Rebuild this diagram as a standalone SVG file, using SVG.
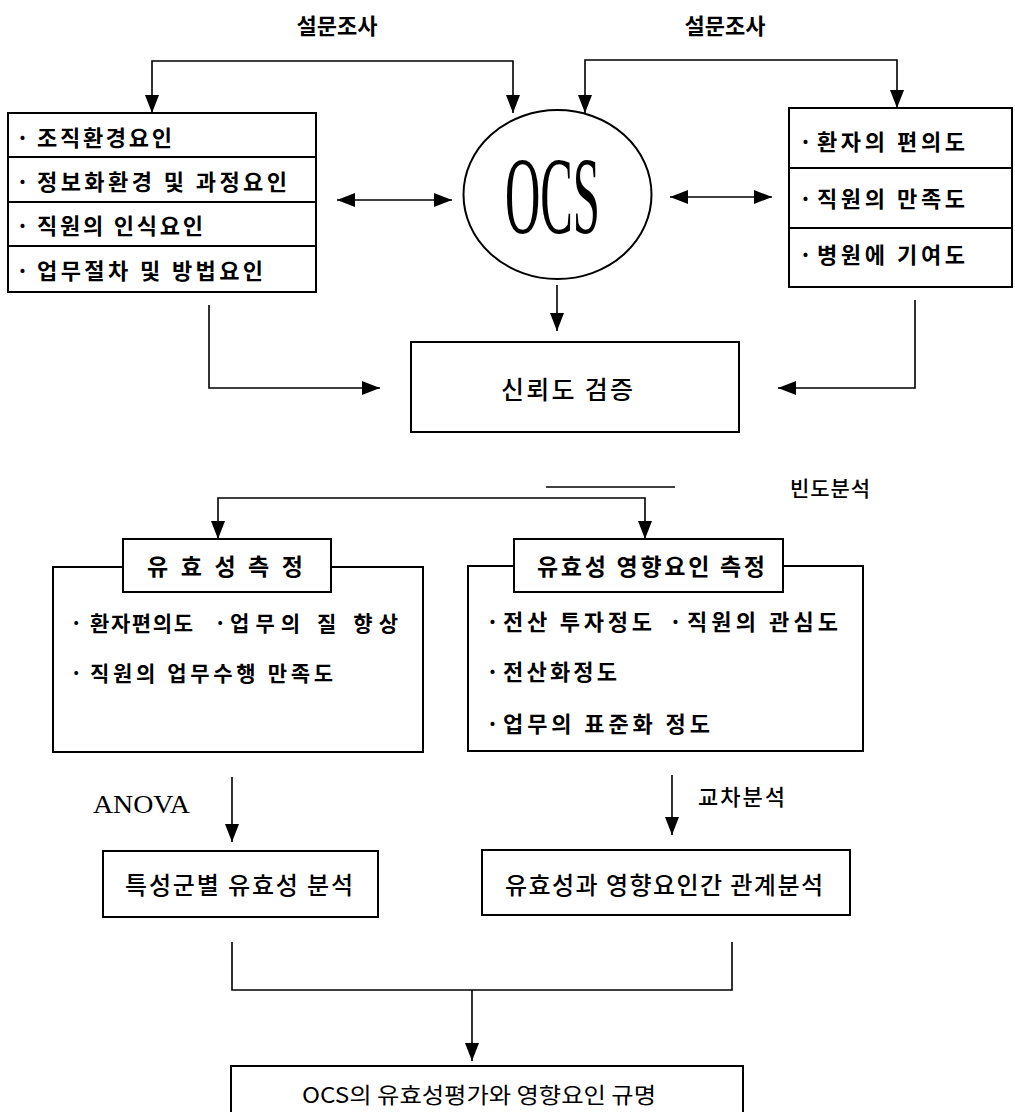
<svg xmlns="http://www.w3.org/2000/svg" width="1015" height="1112" viewBox="0 0 1015 1112">
<defs>
<marker id="ah" viewBox="0 0 18 14" refX="18" refY="7" markerWidth="18" markerHeight="14" orient="auto-start-reverse" markerUnits="userSpaceOnUse"><path d="M0,0 L18,7 L0,14 z" fill="#000"/></marker>
<style>
.box{fill:#fff;stroke:#000;stroke-width:2}
.div{stroke:#000;stroke-width:1.8}
.con{fill:none;stroke:#000;stroke-width:1.6}
.ko{font-family:"Noto Sans CJK KR","Noto Sans",sans-serif;fill:#000;dominant-baseline:central}
.b{font-weight:bold}
.m{font-weight:500}
.se{font-family:"Liberation Serif","Times New Roman",serif;fill:#000}
</style>
</defs>
<rect width="1015" height="1112" fill="#fff"/>

<g id="connectors">
<path class="con" d="M152,113 V61 H513 V113" marker-start="url(#ah)" marker-end="url(#ah)"/>
<path class="con" d="M585,113 V60 H897 V108" marker-start="url(#ah)" marker-end="url(#ah)"/>
<path class="con" d="M337,200 H452" marker-start="url(#ah)" marker-end="url(#ah)"/>
<path class="con" d="M670,197 H772" marker-start="url(#ah)" marker-end="url(#ah)"/>
<path class="con" d="M557,285 V331" marker-end="url(#ah)"/>
<path class="con" d="M209,305 V388 H380" marker-end="url(#ah)"/>
<path class="con" d="M915,300 V388 H778" marker-end="url(#ah)"/>
<path class="con" d="M546,487 H675"/>
<path class="con" d="M218,539 V498 H645 V539" marker-start="url(#ah)" marker-end="url(#ah)"/>
<path class="con" d="M232,777 V842" marker-end="url(#ah)"/>
<path class="con" d="M672,775 V835" marker-end="url(#ah)"/>
<path class="con" d="M232,942 V990 H732 V942"/>
<path class="con" d="M472,990 V1061" marker-end="url(#ah)"/>
</g>

<g id="label-survey-left"><text class="ko b" x="337" y="24" font-size="22" text-anchor="middle">설문조사</text></g>
<g id="label-survey-right"><text class="ko b" x="725" y="24" font-size="22" text-anchor="middle">설문조사</text></g>

<g id="node-left-factors">
<rect class="box" x="8" y="113" width="308" height="179"/>
<line class="div" x1="8" y1="157" x2="316" y2="157"/>
<line class="div" x1="8" y1="202" x2="316" y2="202"/>
<line class="div" x1="8" y1="246" x2="316" y2="246"/>
<text class="ko b" font-size="22" y="136"><tspan x="16">·</tspan><tspan x="37" textLength="135" lengthAdjust="spacing">조직환경요인</tspan></text>
<text class="ko b" font-size="22" y="180"><tspan x="16">·</tspan><tspan x="37" textLength="250" lengthAdjust="spacing">정보화환경 및 과정요인</tspan></text>
<text class="ko b" font-size="22" y="224"><tspan x="16">·</tspan><tspan x="37" textLength="166" lengthAdjust="spacing">직원의 인식요인</tspan></text>
<text class="ko b" font-size="22" y="269"><tspan x="16">·</tspan><tspan x="37" textLength="226" lengthAdjust="spacing">업무절차 및 방법요인</tspan></text>
</g>

<g id="node-ocs">
<ellipse cx="557.5" cy="194.5" rx="94" ry="84.5" fill="#fff" stroke="#000" stroke-width="2"/>
<text class="se" x="505" y="233" font-size="110" textLength="95" lengthAdjust="spacingAndGlyphs">OCS</text>
</g>

<g id="node-right-outcomes">
<rect class="box" x="789" y="108" width="223" height="179"/>
<line class="div" x1="789" y1="168" x2="1012" y2="168"/>
<line class="div" x1="789" y1="228" x2="1012" y2="228"/>
<text class="ko b" font-size="22" y="140"><tspan x="799">·</tspan><tspan x="817" textLength="148" lengthAdjust="spacing">환자의 편의도</tspan></text>
<text class="ko b" font-size="22" y="197"><tspan x="799">·</tspan><tspan x="817" textLength="148" lengthAdjust="spacing">직원의 만족도</tspan></text>
<text class="ko b" font-size="22" y="253"><tspan x="799">·</tspan><tspan x="817" textLength="148" lengthAdjust="spacing">병원에 기여도</tspan></text>
</g>

<g id="node-reliability">
<rect class="box" x="411" y="342" width="328" height="90"/>
<text class="ko m" x="501" y="388" font-size="25" textLength="132" lengthAdjust="spacing">신뢰도 검증</text>
</g>

<g id="label-freq"><text class="ko m" x="790" y="487" font-size="21" textLength="80" lengthAdjust="spacing">빈도분석</text></g>

<g id="node-validity">
<rect class="box" x="53" y="567" width="370" height="185"/>
<rect class="box" x="123" y="539" width="208" height="53"/>
<text class="ko b" x="147" y="565" font-size="23" textLength="156" lengthAdjust="spacing">유 효 성 측 정</text>
<text class="ko b" font-size="21" y="622"><tspan x="70">·</tspan><tspan x="90" textLength="103" lengthAdjust="spacing">환자편의도</tspan><tspan x="214">·</tspan><tspan x="230" textLength="168" lengthAdjust="spacing">업무의 질 향상</tspan></text>
<text class="ko b" font-size="21" y="672"><tspan x="70">·</tspan><tspan x="90" textLength="243" lengthAdjust="spacing">직원의 업무수행 만족도</tspan></text>
</g>

<g id="node-factors-measure">
<rect class="box" x="468" y="566" width="395" height="185"/>
<rect class="box" x="514" y="539" width="269" height="53"/>
<text class="ko b" x="537" y="565" font-size="23" textLength="228" lengthAdjust="spacing">유효성 영향요인 측정</text>
<text class="ko b" font-size="22" y="620"><tspan x="486">·</tspan><tspan x="503" textLength="149" lengthAdjust="spacing">전산 투자정도</tspan><tspan x="669">·</tspan><tspan x="687" textLength="151" lengthAdjust="spacing">직원의 관심도</tspan></text>
<text class="ko b" font-size="22" y="670"><tspan x="486">·</tspan><tspan x="503" textLength="114" lengthAdjust="spacing">전산화정도</tspan></text>
<text class="ko b" font-size="22" y="722"><tspan x="486">·</tspan><tspan x="503" textLength="207" lengthAdjust="spacing">업무의 표준화 정도</tspan></text>
</g>

<g id="label-anova"><text class="se" x="93" y="813" font-size="25" textLength="97" lengthAdjust="spacingAndGlyphs">ANOVA</text></g>
<g id="label-cross"><text class="ko m" x="698" y="795" font-size="22" textLength="87" lengthAdjust="spacing">교차분석</text></g>

<g id="node-group-analysis">
<rect class="box" x="103" y="851" width="275" height="66"/>
<text class="ko m" x="125" y="883" font-size="24" textLength="228" lengthAdjust="spacing">특성군별 유효성 분석</text>
</g>

<g id="node-relation-analysis">
<rect class="box" x="482" y="850" width="368" height="65"/>
<text class="ko m" x="505" y="883" font-size="24" textLength="318" lengthAdjust="spacing">유효성과 영향요인간 관계분석</text>
</g>

<g id="node-final">
<rect class="box" x="231" y="1066" width="512" height="70"/>
<text class="ko" x="302" y="1093" font-size="22" textLength="354" lengthAdjust="spacingAndGlyphs">OCS의 유효성평가와 영향요인 규명</text>
</g>
</svg>
